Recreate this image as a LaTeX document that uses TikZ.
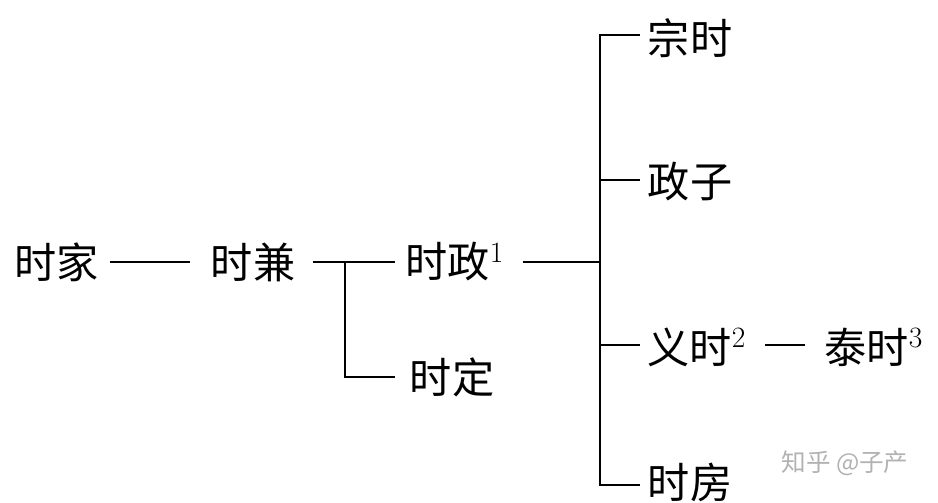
\documentclass[tikz,border=0pt]{standalone}
\usepackage{fontspec}
\newfontfamily\cjk{Noto Sans CJK SC}
\usetikzlibrary{positioning}
\tikzset{
every node/.style={inner sep=1pt, font=\cjk\fontsize{24}{28}\selectfont},
branch/.style={line width=1.2pt},
}
\begin{document}
\begin{tikzpicture}[x=0.02cm,y=-0.02cm]
  \useasboundingbox (0,0) rectangle (938,503);
  % left part
  \node at (57,262) (jia){时家};
  \node at (253,262) (jian){时兼};
  \node at (455,262) (zheng){时政$^{\mathrm{1}}$};
  \node at (452,377) (ding){时定};
  \draw[branch] (110,262) -- (190,262);
  \draw[branch] (313,262) -- (395,262);
  \draw[branch] (345,262) -- (345,377) -- (395,377);

  % right part
  \node at (690,38) (zong){宗时};
  \node at (690,182) (zi){政子};
  \node at (697,347) (yi){义时$^{\mathrm{2}}$};
  \node at (874,347) (tai){泰时$^{\mathrm{3}}$};
  \node at (690,482) (fang){时房};
  \draw[branch] (523,262) -- (600,262);
  \draw[branch] (640,35) -- (600,35) -- (600,485) -- (640,485);
  \foreach \y in {180,345}
    \draw[branch] (600,\y) -- (640,\y);
  \draw[branch] (765,345) -- (805,345);

  % watermark
  \node[font=\cjk\fontsize{14}{16}\selectfont, text=gray!60] at (845,463) (mark){知乎 @子产};
\end{tikzpicture}
\end{document}
